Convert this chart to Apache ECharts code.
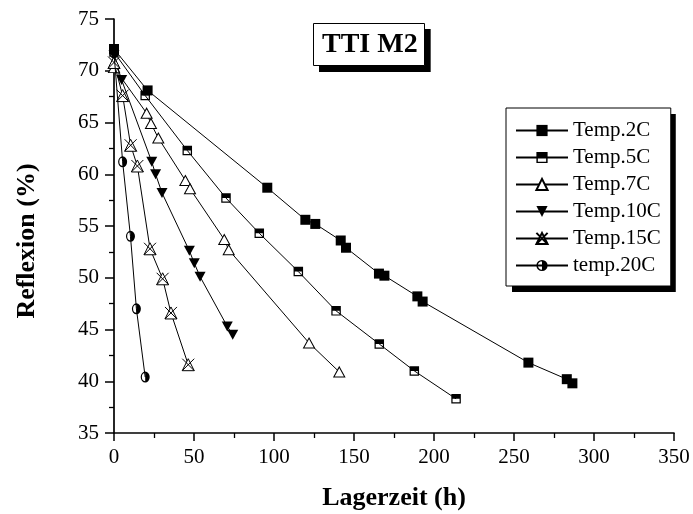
<!DOCTYPE html>
<html>
<head>
<meta charset="utf-8">
<script src="https://cdn.jsdelivr.net/npm/echarts@6/dist/echarts.min.js"></script>
<style>html,body{margin:0;padding:0;background:#fff}#c{width:693px;height:514px}</style>
</head>
<body>
<div id="c"></div>
<script>
// ---- data ----
const names = ['Temp.2C', 'Temp.5C', 'Temp.7C', 'Temp.10C', 'Temp.15C', 'temp.20C'];
const t2  = [0, 21, 95.8, 119.6, 125.8, 141.7, 145, 165.6, 169, 189.6, 192.9, 259, 283, 286.5];
const r2  = [72.1, 68.1, 58.7, 55.6, 55.2, 53.6, 52.9, 50.4, 50.2, 48.2, 47.7, 41.8, 40.2, 39.8];
const t5  = [0, 19.5, 45.8, 70, 90.8, 115.2, 138.8, 165.8, 187.7, 213.8];
const r5  = [71.8, 67.6, 62.3, 57.7, 54.3, 50.6, 46.8, 43.6, 41.0, 38.3];
const t7  = [0, 20.4, 23.1, 27.7, 44.6, 47.5, 68.9, 71.7, 121.9, 140.8];
const r7  = [70.3, 65.9, 64.9, 63.5, 59.4, 58.6, 53.7, 52.7, 43.7, 40.9];
const t10 = [0, 4.8, 23.6, 26, 30, 47.1, 50.2, 53.8, 70.8, 74.2];
const r10 = [71.5, 69.1, 61.2, 60.0, 58.2, 52.6, 51.4, 50.1, 45.3, 44.5];
const t15 = [0, 5.4, 10.4, 14.6, 22.5, 30.4, 35.6, 46.4];
const r15 = [70.8, 67.6, 62.8, 60.8, 52.8, 49.9, 46.6, 41.6];
const t20 = [0, 5.4, 10.3, 14, 19.5];
const r20 = [71.7, 61.2, 54.0, 47.0, 40.4];
const xTicks = [0, 50, 100, 150, 200, 250, 300, 350];
const yTicks = [35, 40, 45, 50, 55, 60, 65, 70, 75];
const xTitle = 'Lagerzeit (h)';
const yTitle = 'Reflexion (%)';
const boxTitle = 'TTI M2';

const FONT = 'Liberation Serif';
const pairs = (t, r) => t.map((v, i) => [v, r[i]]);

// text measuring (for the offset shadows of the boxes)
const mctx = document.createElement('canvas').getContext('2d');
function textW(txt, font) { mctx.font = font; return mctx.measureText(txt).width; }

const SYM = {
  sq: 'rect',
  halfSq: 'path://M0,0 H10 V10 H0 Z M1.3,5 V8.7 H8.7 V5 Z',
  tri: 'triangle',
  down: 'path://M0,0 L10,0 L5,9 Z',
  xtri: 'path://M5,0 L10,10 L0,10 Z M0,0 L10,10 M10,0 L0,10',
  halfC: 'path://M5,0 A5,5 0 1,1 5,10 A5,5 0 1,1 5,0 Z M5,1.3 A3.7,3.7 0 1,0 5,8.7 A3.7,3.7 0 1,0 5,1.3 Z M5,0 A5,5 0 0,1 5,10 Z'
};

function mk(i, t, r, symbol, size, filled) {
  return {
    name: names[i], type: 'line', data: pairs(t, r),
    symbol: symbol, symbolSize: size, showSymbol: true,
    lineStyle: { color: '#000', width: 1 },
    itemStyle: filled ? { color: '#000', borderWidth: 0 } : { color: '#fff', borderColor: '#000', borderWidth: 1 },
    emphasis: { disabled: true },
    z: 2 + i
  };
}

// box geometry
const TL = 313, TT = 23, TPAD = [7, 7, 7, 9], TFS = 28, TLH = 29;
const tW = TPAD[3] + textW(boxTitle, 'bold ' + TFS + 'px "' + FONT + '"') + TPAD[1];
const tH = TPAD[0] + TLH + TPAD[2];
const LL = 506, LT = 108, LPAD = [12, 10, 10, 9], LIW = 52, LIH = 14, LGAP = 6, LFS = 21, LLH = 21;
const maxLW = Math.max.apply(null, names.map(n => textW(n, LFS + 'px "' + FONT + '"')));
const lW = LPAD[3] + LIW + 5 + maxLW + LPAD[1];
const lH = LPAD[0] + names.length * LLH + (names.length - 1) * LGAP + LPAD[2];
const SH = 6;

const chart = echarts.init(document.getElementById('c'), null, { renderer: 'canvas' });
chart.setOption({
  animation: false,
  backgroundColor: '#fff',
  title: {
    text: boxTitle, left: TL, top: TT,
    padding: TPAD,
    borderColor: '#000', borderWidth: 1, backgroundColor: '#fff',
    textStyle: { fontFamily: FONT, fontWeight: 'bold', fontSize: TFS, color: '#000', lineHeight: TLH }
  },
  legend: {
    orient: 'vertical', left: LL, top: LT,
    padding: LPAD,
    itemWidth: LIW, itemHeight: LIH, itemGap: LGAP,
    borderColor: '#000', borderWidth: 1, backgroundColor: '#fff',
    textStyle: { fontFamily: FONT, fontSize: LFS, color: '#000', lineHeight: LLH },
    data: names
  },
  graphic: [
    { type: 'rect', z: 1, silent: true, shape: { x: TL + SH, y: TT + SH, width: tW, height: tH }, style: { fill: '#000' } },
    { type: 'rect', z: 1, silent: true, shape: { x: LL + SH, y: LT + SH, width: lW, height: lH }, style: { fill: '#000' } },
    { type: 'text', x: 394, y: 498, silent: true, style: { text: xTitle, fontFamily: FONT, fontWeight: 'bold', fontSize: 26, fill: '#000', textAlign: 'center', textVerticalAlign: 'middle' } },
    { type: 'text', x: 27, y: 241, rotation: Math.PI / 2, silent: true, style: { text: yTitle, fontFamily: FONT, fontWeight: 'bold', fontSize: 26, fill: '#000', textAlign: 'center', textVerticalAlign: 'middle' } }
  ],
  grid: { left: 114, right: 19, top: 19, bottom: 81 },
  xAxis: {
    type: 'value', min: xTicks[0], max: xTicks[xTicks.length - 1], interval: 50,
    axisLine: { lineStyle: { color: '#000', width: 1.7 } },
    axisTick: { length: 8, lineStyle: { color: '#000', width: 1.5 } },
    minorTick: { show: true, splitNumber: 2, length: 5, lineStyle: { color: '#000', width: 1.3 } },
    splitLine: { show: false },
    axisLabel: { fontFamily: FONT, fontSize: 21, color: '#000', margin: 14 }
  },
  yAxis: {
    type: 'value', min: yTicks[0], max: yTicks[yTicks.length - 1], interval: 5,
    axisLine: { lineStyle: { color: '#000', width: 1.7 } },
    axisTick: { length: 9, lineStyle: { color: '#000', width: 1.5 } },
    minorTick: { show: true, splitNumber: 2, length: 5, lineStyle: { color: '#000', width: 1.3 } },
    splitLine: { show: false },
    axisLabel: { fontFamily: FONT, fontSize: 21, color: '#000', margin: 15 }
  },
  series: [
    mk(0, t2, r2, SYM.sq, 10, true),
    mk(1, t5, r5, SYM.halfSq, 9.5, true),
    mk(2, t7, r7, SYM.tri, [11, 10], false),
    mk(3, t10, r10, SYM.down, [11, 10], true),
    mk(4, t15, r15, SYM.xtri, [12, 12], false),
    mk(5, t20, r20, SYM.halfC, [9, 11], true)
  ]
});
</script>
</body>
</html>
